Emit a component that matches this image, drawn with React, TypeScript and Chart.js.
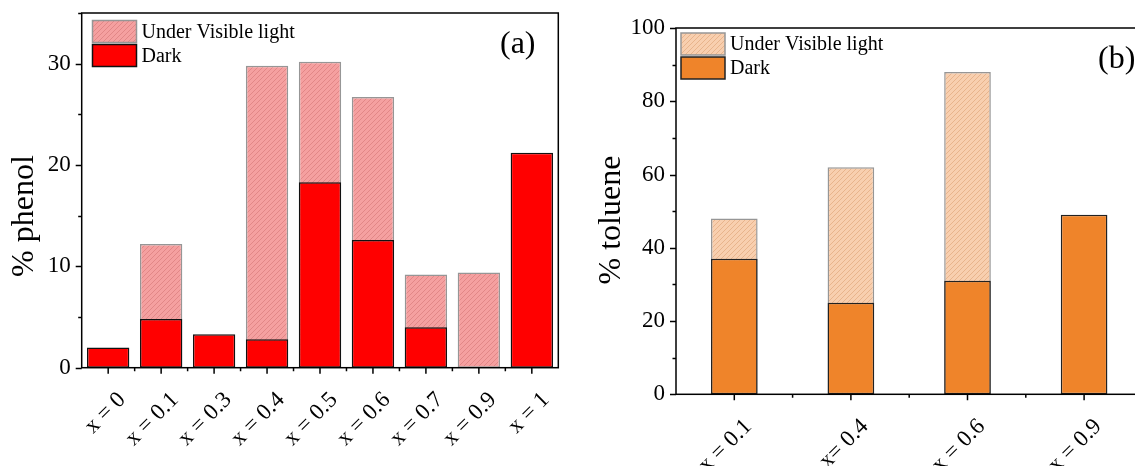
import React, { useEffect, useRef } from 'react';
import { Chart, registerables } from 'chart.js';
Chart.register(...registerables);

const FONT = '"Liberation Serif", "Times New Roman", serif';

// ---- Data (a): phenol ----
const phenolCategories = ['x = 0', 'x = 0.1', 'x = 0.3', 'x = 0.4', 'x = 0.5', 'x = 0.6', 'x = 0.7', 'x = 0.9', 'x = 1'];
const phenolVisible: (number | null)[] = [null, 12.2, null, 29.8, 30.2, 26.7, 9.2, 9.4, null];
const phenolDark: (number | null)[] = [2.0, 4.8, 3.3, 2.8, 18.3, 12.6, 4.0, 0, 21.2];

// ---- Data (b): toluene ----
const tolueneCategories = ['x = 0.1', 'x= 0.4', 'x = 0.6', 'x = 0.9'];
const tolueneVisible: (number | null)[] = [48, 62, 88, null];
const tolueneDark: (number | null)[] = [37, 25, 31, 49];

const seriesLabels = ['Under Visible light', 'Dark'];

function makeHatch(base: string, line: string, size = 5): CanvasPattern | string {
  const c = document.createElement('canvas');
  c.width = size;
  c.height = size;
  const g = c.getContext('2d');
  if (!g) return base;
  g.fillStyle = base;
  g.fillRect(0, 0, size, size);
  g.strokeStyle = line;
  g.lineWidth = 1;
  g.beginPath();
  g.moveTo(0, size);
  g.lineTo(size, 0);
  g.moveTo(-1, 1);
  g.lineTo(1, -1);
  g.moveTo(size - 1, size + 1);
  g.lineTo(size + 1, size - 1);
  g.stroke();
  return g.createPattern(c, 'repeat') || base;
}

interface PanelCfg {
  categories: string[];
  visible: (number | null)[];
  dark: (number | null)[];
  yMax: number;
  yMajor: number;
  yMinor: number;
  barPct: number;
  canvasW: number;
  canvasH: number;
  area: { left: number; top: number; right: number; bottom: number };
  visBase: string;
  visLine: string;
  visBorder: string;
  darkFill: string;
  darkBorder: string;
  yTitle: string;
  yTitleX: number;
  yTitleY: number;
  tag: string;
  tagX: number;
  tagY: number;
  legX: number;
  legY: number;
}

function Panel({ cfg, left }: { cfg: PanelCfg; left: number }) {
  const ref = useRef<HTMLCanvasElement>(null);
  useEffect(() => {
    const canvas = ref.current;
    if (!canvas) return;
    const visFill = makeHatch(cfg.visBase, cfg.visLine);
    const a = cfg.area;

    const decor = {
      id: 'decor',
      afterDraw(chart: any) {
        const { ctx, chartArea: ca, scales } = chart;
        const xs = scales.x;
        const ys = scales.y;
        ctx.save();
        ctx.strokeStyle = '#000';
        ctx.lineWidth = 1.5;
        ctx.strokeRect(ca.left, ca.top, ca.right - ca.left, ca.bottom - ca.top);
        // y ticks
        ctx.beginPath();
        const nMinor = Math.round(cfg.yMax / cfg.yMinor);
        for (let k = 0; k <= nMinor; k++) {
          const v = k * cfg.yMinor;
          const y = Math.round(ys.getPixelForValue(v)) + 0.5;
          const major = Math.abs(v / cfg.yMajor - Math.round(v / cfg.yMajor)) < 1e-6;
          const len = major ? 6 : 3.5;
          ctx.moveTo(ca.left - len, y);
          ctx.lineTo(ca.left, y);
        }
        // x ticks
        const n = cfg.categories.length;
        for (let i = 0; i < n; i++) {
          const px = xs.getPixelForValue(i);
          ctx.moveTo(px, ca.bottom);
          ctx.lineTo(px, ca.bottom + 6);
          if (i < n - 1) {
            const mx = (px + xs.getPixelForValue(i + 1)) / 2;
            ctx.moveTo(mx, ca.bottom);
            ctx.lineTo(mx, ca.bottom + 3.5);
          }
        }
        ctx.stroke();

        // y title
        ctx.fillStyle = '#000';
        ctx.font = `32px ${FONT}`;
        ctx.textAlign = 'center';
        ctx.textBaseline = 'middle';
        ctx.save();
        ctx.translate(cfg.yTitleX, cfg.yTitleY);
        ctx.rotate(-Math.PI / 2);
        ctx.fillText(cfg.yTitle, 0, 0);
        ctx.restore();

        // panel tag
        ctx.font = `32px ${FONT}`;
        ctx.textAlign = 'left';
        ctx.fillText(cfg.tag, cfg.tagX, cfg.tagY);

        // legend
        const bw = 44;
        const bh = 22;
        const gap = 24;
        ctx.font = `20px ${FONT}`;
        ctx.textAlign = 'left';
        ctx.textBaseline = 'middle';
        const fills = [visFill, cfg.darkFill];
        const borders = [cfg.visBorder, cfg.darkBorder];
        for (let j = 0; j < 2; j++) {
          const by = cfg.legY + j * gap;
          ctx.fillStyle = fills[j];
          ctx.fillRect(cfg.legX, by, bw, bh);
          ctx.strokeStyle = borders[j];
          ctx.lineWidth = 1.5;
          ctx.strokeRect(cfg.legX, by, bw, bh);
          ctx.fillStyle = '#000';
          ctx.fillText(seriesLabels[j], cfg.legX + bw + 5, by + bh / 2 + 1);
        }
        ctx.restore();
      },
    };

    const chart = new Chart(canvas, {
      type: 'bar',
      data: {
        labels: cfg.categories,
        datasets: [
          {
            label: seriesLabels[0],
            data: cfg.visible,
            backgroundColor: visFill as any,
            borderColor: cfg.visBorder,
            borderWidth: 1.5,
            borderSkipped: false,
            grouped: false,
            order: 2,
            barPercentage: cfg.barPct,
            categoryPercentage: 1,
          } as any,
          {
            label: seriesLabels[1],
            data: cfg.dark,
            backgroundColor: cfg.darkFill,
            borderColor: cfg.darkBorder,
            borderWidth: 1.5,
            borderSkipped: false,
            grouped: false,
            order: 1,
            barPercentage: cfg.barPct,
            categoryPercentage: 1,
          } as any,
        ],
      },
      options: {
        animation: false,
        responsive: false,
        devicePixelRatio: 1,
        layout: {
          padding: { left: 0, top: a.top, right: cfg.canvasW - a.right, bottom: 0 },
        },
        plugins: { legend: { display: false }, tooltip: { enabled: false } },
        scales: {
          x: {
            type: 'category',
            grid: { display: false, drawTicks: false },
            border: { display: false },
            ticks: {
              color: '#000',
              font: { family: FONT, size: 23 },
              minRotation: 45,
              maxRotation: 45,
              autoSkip: false,
              labelOffset: 14,
              padding: 19,
            },
            afterFit: (s: any) => {
              s.height = cfg.canvasH - a.bottom;
              s.paddingLeft = 0;
              s.paddingRight = 0;
            },
          },
          y: {
            type: 'linear',
            min: 0,
            max: cfg.yMax,
            grid: { display: false, drawTicks: false },
            border: { display: false },
            ticks: {
              stepSize: cfg.yMajor,
              color: '#000',
              font: { family: FONT, size: 23 },
              padding: 11,
              callback: (v: any) => (Math.abs(v % cfg.yMajor) < 1e-6 ? String(v) : ''),
            },
            afterFit: (s: any) => {
              s.width = a.left;
              s.paddingTop = 0;
              s.paddingBottom = 0;
            },
          },
        },
      },
      plugins: [decor],
    } as any);
    return () => chart.destroy();
  }, [cfg]);
  return (
    <div style={{ position: 'absolute', left, top: 0, width: cfg.canvasW, height: cfg.canvasH }}>
      <canvas ref={ref} width={cfg.canvasW} height={cfg.canvasH} style={{ width: cfg.canvasW, height: cfg.canvasH, display: 'block' }} />
    </div>
  );
}

const cfgA: PanelCfg = {
  categories: phenolCategories,
  visible: phenolVisible,
  dark: phenolDark,
  yMax: 35,
  yMajor: 10,
  yMinor: 5,
  barPct: 0.8,
  canvasW: 570,
  canvasH: 466,
  area: { left: 81.7, top: 13, right: 558.3, bottom: 367.7 },
  visBase: 'rgb(245,160,160)',
  visLine: 'rgb(226,135,135)',
  visBorder: 'rgb(150,150,150)',
  darkFill: '#ff0000',
  darkBorder: '#111',
  yTitle: '% phenol',
  yTitleX: 25,
  yTitleY: 216,
  tag: '(a)',
  tagX: 500,
  tagY: 45,
  legX: 92.5,
  legY: 20.5,
};

const cfgB: PanelCfg = {
  categories: tolueneCategories,
  visible: tolueneVisible,
  dark: tolueneDark,
  yMax: 100,
  yMajor: 20,
  yMinor: 10,
  barPct: 0.4,
  canvasW: 580,
  canvasH: 466,
  area: { left: 106, top: 28, right: 572.4, bottom: 394.3 },
  visBase: 'rgb(248,207,175)',
  visLine: 'rgb(232,180,140)',
  visBorder: 'rgb(150,150,150)',
  darkFill: 'rgb(239,132,42)',
  darkBorder: '#222',
  yTitle: '% toluene',
  yTitleX: 42,
  yTitleY: 220,
  tag: '(b)',
  tagX: 528,
  tagY: 60,
  legX: 111,
  legY: 33,
};

export default function App() {
  return (
    <div style={{ position: 'absolute', left: 0, top: 0, width: 1135, height: 466, overflow: 'hidden', background: '#fff' }}>
      <Panel cfg={cfgA} left={0} />
      <Panel cfg={cfgB} left={570} />
    </div>
  );
}
